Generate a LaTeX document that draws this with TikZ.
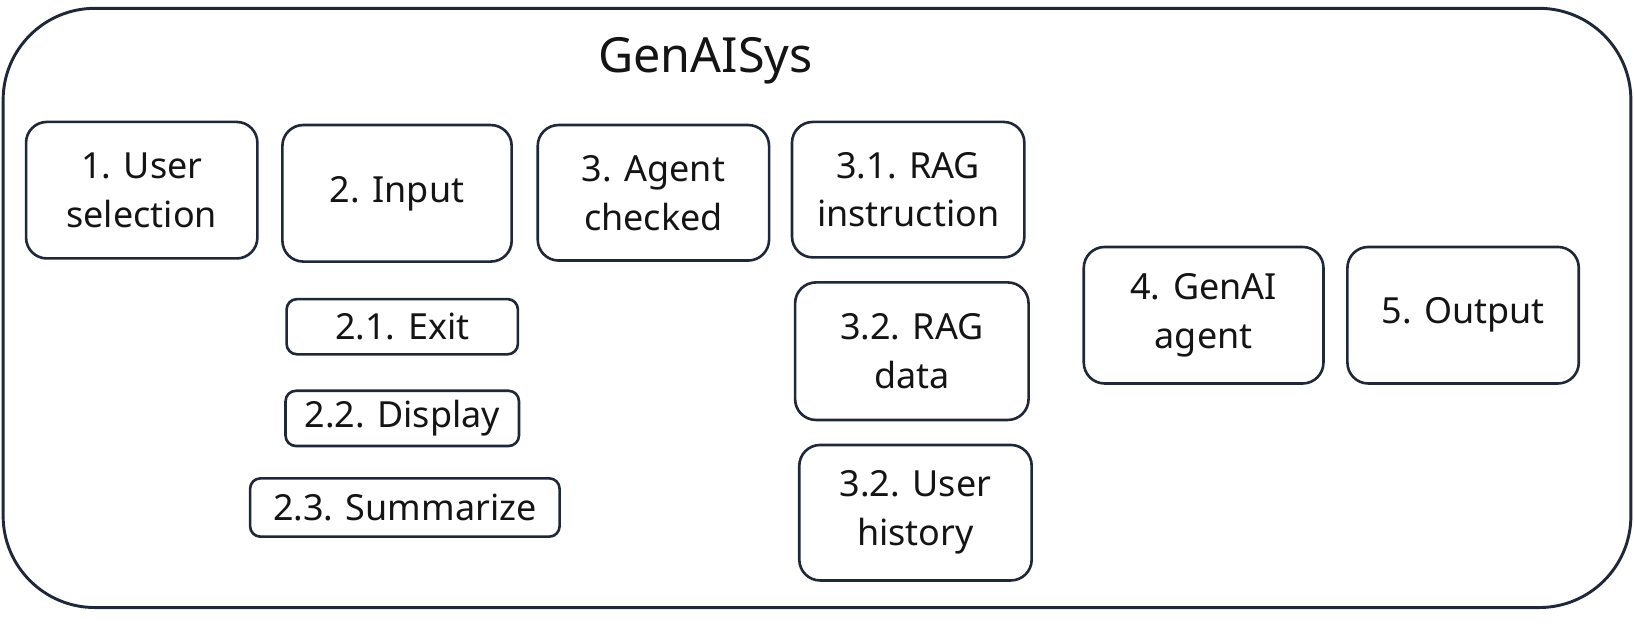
\documentclass[tikz,border=0pt]{standalone}
\usepackage{fontspec}
\setmainfont{Noto Sans}
\definecolor{linec}{HTML}{1E2838}
\definecolor{txt}{HTML}{141414}
\tikzset{
  box/.style={draw=linec, line width=2.5pt, rounded corners=20pt, align=center,
    font=\fontsize{34.5}{47}\selectfont, text=txt, inner sep=0pt},
  smallbox/.style={box, rounded corners=10pt},
  frame/.style={draw=linec, line width=2.8pt, rounded corners=88pt},
}
\begin{document}
\begin{tikzpicture}[x=1pt,y=-1pt]
\useasboundingbox (0,0) rectangle (1568,601.7);
\draw[frame] (3,8) rectangle (1565,583);
\node[font=\fontsize{46.5}{52}\selectfont, text=txt] (title) at (677,58) {GenAISys};
\node[box, minimum width=222pt, minimum height=131pt] (b1) at (136,182.5) {1. User\\selection};
\node[box, minimum width=220pt, minimum height=131pt] (b2) at (381,185.5) {2. Input};
\node[box, minimum width=222pt, minimum height=130pt] (b3) at (627,185) {3. Agent\\checked};
\node[box, minimum width=223pt, minimum height=130pt] (b31) at (871.5,182) {3.1. RAG\\instruction};
\node[box, minimum width=224pt, minimum height=132pt] (b32) at (875,337) {3.2. RAG\\data};
\node[box, minimum width=223pt, minimum height=130pt] (b33) at (878.5,492) {3.2. User\\history};
\node[smallbox, minimum width=222pt, minimum height=53pt] (b21) at (386,313.5) {2.1. Exit};
\node[smallbox, minimum width=224pt, minimum height=53pt] (b22) at (386,401.5) {2.2. Display};
\node[smallbox, minimum width=297pt, minimum height=56pt] (b23) at (388.5,487) {2.3. Summarize};
\node[box, minimum width=230pt, minimum height=131pt] (b4) at (1155,302.5) {4. GenAI\\agent};
\node[box, minimum width=222pt, minimum height=131pt] (b5) at (1404,302.5) {5. Output};
\end{tikzpicture}
\end{document}
